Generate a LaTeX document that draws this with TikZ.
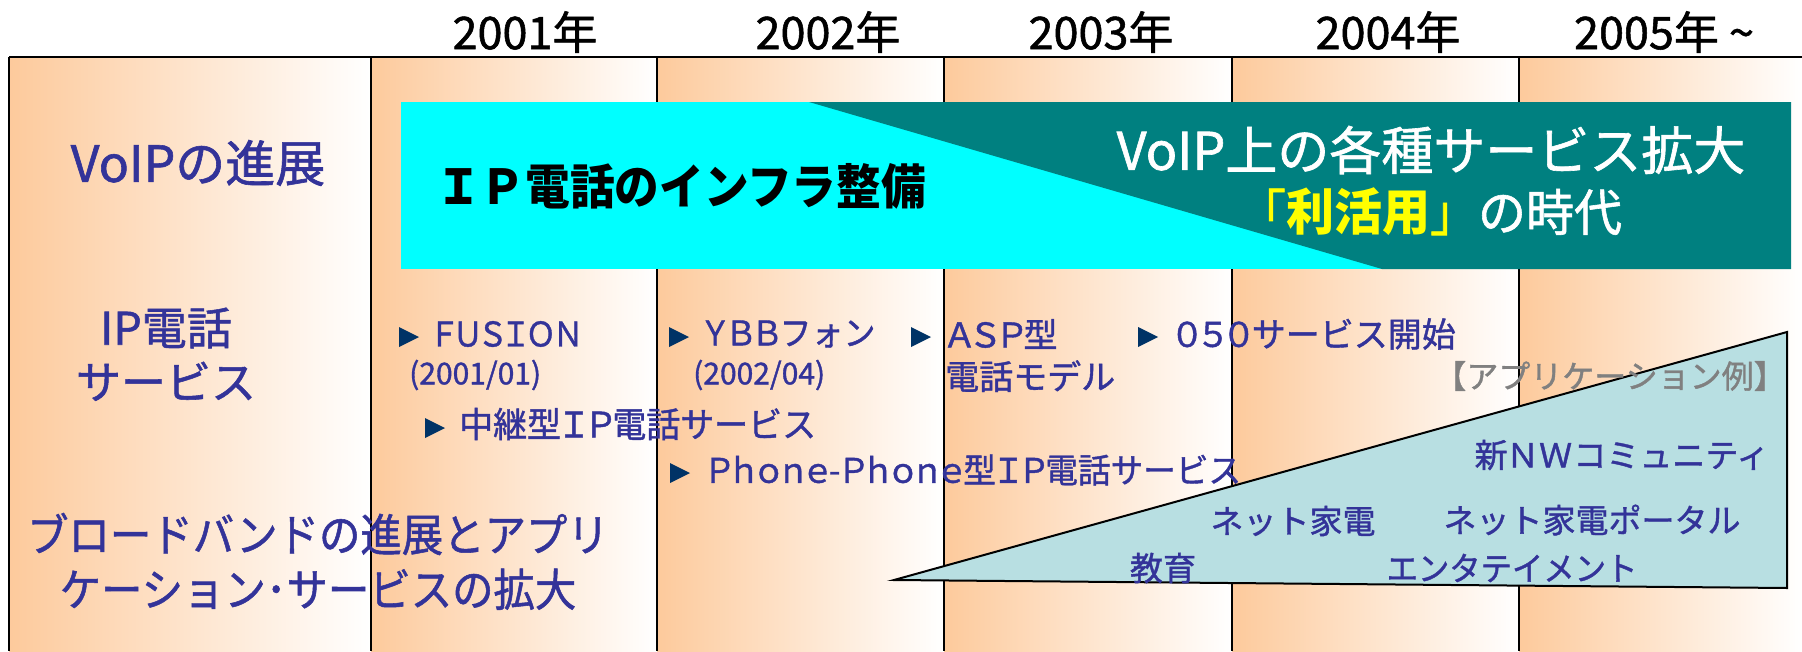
\documentclass[tikz,border=0pt]{standalone}
\usepackage{fontspec}
\setmainfont{Noto Sans CJK JP}[UprightFeatures={FakeBold=1.2}]
\newfontfamily\pjp{Noto Sans CJK JP}[RawFeature=+palt,UprightFeatures={FakeBold=1.2}]
\usetikzlibrary{positioning}

\definecolor{peach}{RGB}{253,202,156}
\definecolor{navy}{RGB}{51,51,153}
\definecolor{bulletc}{RGB}{0,51,102}
\definecolor{aqua}{RGB}{0,255,255}
\definecolor{darkteal}{RGB}{0,128,128}
\definecolor{brightyellow}{RGB}{255,255,0}
\definecolor{paleblue}{RGB}{184,223,226}
\definecolor{appgrey}{RGB}{128,128,128}

\newcommand\narrow[2]{\scalebox{#1}[1]{#2}}
\newcommand\tri[2]{\fill[bulletc] (#1,#2-10) -- (#1+20,#2) -- (#1,#2+10) -- cycle;}

\begin{document}
\begin{tikzpicture}[x=1pt,y=-1pt,every node/.style={inner sep=0pt},
    year/.style={font=\fontsize{45}{54}\selectfont},
    lefthead/.style={text=navy,font=\fontsize{45}{54}\selectfont},
    item/.style={anchor=west,text=navy,font=\fontsize{34}{40}\selectfont},
    app/.style={text=navy,font=\fontsize{33}{40}\selectfont}]
\useasboundingbox (0,0) rectangle (1802,651);

\foreach \a/\b in {9/371,371/657,657/944,944/1232,1232/1519,1519/1802}
  \shade[left color=peach,right color=white] (\a,57) rectangle (\b,651);
\draw[line width=2] (9,57) -- (1802,57);
\foreach \a in {9,371,657,944,1232,1519}
  \draw[line width=2] (\a,57) -- (\a,651);

\node[year] (y2001) at (525,32) {2001年};
\node[year] (y2002) at (828,32) {2002年};
\node[year] (y2003) at (1101,32) {2003年};
\node[year] (y2004) at (1388,32) {2004年};
\node[year] (y2005) at (1664,32) {2005年 \textasciitilde};

\fill[aqua] (401,102) rectangle (1791,269);
\fill[darkteal] (809,102) -- (1791,102) -- (1791,269) -- (1382,269) -- cycle;
\node[anchor=west,font=\bfseries\fontsize{48}{56}\selectfont] (infra) at (436,186)
  {\narrow{0.93}{ＩＰ電話のインフラ整備}};
\node[text=white,font=\fontsize{52}{60}\selectfont] (expand) at (1431,150) {VoIP上の各種サービス拡大};
\node[text=white,font=\fontsize{50}{60}\selectfont] (era) at (1430,212)
  {\narrow{0.96}{{\color{brightyellow}「\textbf{利活用}」}の時代}};

\node[lefthead,font=\fontsize{50}{60}\selectfont] (voip) at (198,163) {VoIPの進展};
\node[lefthead] (ipsvc) at (166,328) {IP電話};
\node[lefthead,below=13pt of ipsvc] (ipsvc2) {サービス};
\node[lefthead] (bband) at (318,534) {\narrow{0.92}{ブロードバンドの進展とアプリ}};
\node[lefthead,below=13pt of bband] (bband2) {\narrow{0.92}{ケーション･サービスの拡大}};

\tri{399}{337}
\node[item] (fusion) at (433,334) {\narrow{0.9}{\pjp ＦＵＳＩＯＮ}};
\node[item,font=\fontsize{30}{36}\selectfont] (fusiondate) at (409,375) {(2001/01)};
\tri{669}{337}
\node[item] (ybb) at (703,334) {\narrow{0.94}{{\pjp ＹＢＢ}フォン}};
\node[item,font=\fontsize{30}{36}\selectfont] (ybbdate) at (693,375) {(2002/04)};
\tri{425}{428}
\node[item,font=\fontsize{35}{42}\selectfont] (relay) at (459,424) {\narrow{0.97}{中継型{\pjp ＩＰ}電話サービス}};
\tri{670}{473}
\node[item] (phone) at (706,470) {\narrow{0.96}{{\pjp Ｐｈｏｎｅ-Ｐｈｏｎｅ}型{\pjp ＩＰ}電話サービス}};
\tri{911}{337}
\node[item] (asp) at (946,334) {{\pjp ＡＳＰ}型};
\node[item,below right=11pt and -1pt of asp.south west,anchor=north west] (aspmodel) {電話モデル};
\tri{1138}{337}
\node[item] (s050) at (1174,334) {{\pjp ０５０}サービス開始};

\filldraw[fill=paleblue,draw=black,line width=2] (894,580) -- (1787,332) -- (1787,588) -- cycle;
\node[text=appgrey,font=\fontsize{32}{40}\selectfont] (appex) at (1610,376) {【アプリケーション例】};
\node[app] (newnw) at (1622,455) {新{\pjp ＮＷ}コミュニティ};
\node[app] (netkaden) at (1293,521) {ネット家電};
\node[app] (portal) at (1592,520) {ネット家電ポータル};
\node[app] (edu) at (1163,568) {教育};
\node[app] (ent) at (1512,568) {\narrow{0.95}{エンタテイメント}};
\end{tikzpicture}
\end{document}
